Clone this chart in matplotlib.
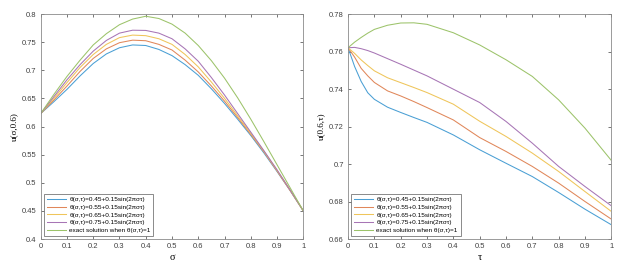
import numpy as np
import matplotlib
matplotlib.use('Agg')
import matplotlib.pyplot as plt
from matplotlib.ticker import FuncFormatter

# left panel: u(sigma, 0.6)
sigma = [0, 0.05, 0.1, 0.15, 0.2, 0.25, 0.3, 0.35, 0.4, 0.45, 0.5,
         0.55, 0.6, 0.65, 0.7, 0.75, 0.8, 0.85, 0.9, 0.95, 1.0]
u_s_045 = [0.623, 0.644, 0.666, 0.690, 0.712, 0.729, 0.740, 0.745, 0.744, 0.737, 0.726,
           0.710, 0.691, 0.667, 0.641, 0.613, 0.584, 0.553, 0.520, 0.486, 0.450]
u_s_055 = [0.623, 0.647, 0.672, 0.698, 0.721, 0.738, 0.749, 0.7535, 0.7525, 0.746, 0.736,
           0.718, 0.697, 0.672, 0.645, 0.616, 0.586, 0.555, 0.521, 0.486, 0.450]
u_s_065 = [0.623, 0.650, 0.678, 0.705, 0.728, 0.746, 0.758, 0.7625, 0.7615, 0.756, 0.746,
           0.728, 0.706, 0.679, 0.650, 0.619, 0.588, 0.556, 0.522, 0.487, 0.450]
u_s_075 = [0.623, 0.653, 0.683, 0.710, 0.734, 0.753, 0.766, 0.7712, 0.7708, 0.766, 0.756,
           0.738, 0.716, 0.687, 0.656, 0.623, 0.590, 0.557, 0.523, 0.487, 0.450]
u_s_exact = [0.623, 0.657, 0.689, 0.718, 0.745, 0.765, 0.781, 0.791, 0.796, 0.792, 0.782,
             0.766, 0.744, 0.717, 0.686, 0.651, 0.613, 0.573, 0.532, 0.491, 0.450]

# right panel: u(0.6, tau)
tau = [0, 0.025, 0.05, 0.075, 0.1, 0.15, 0.2, 0.25, 0.3, 0.4, 0.5, 0.6, 0.7, 0.8, 0.9, 1.0]
u_t_045 = [0.762, 0.752, 0.744, 0.738, 0.7345, 0.7303, 0.7275, 0.7248, 0.7222, 0.7155, 0.7076,
           0.7004, 0.6933, 0.6848, 0.6759, 0.6676]
u_t_055 = [0.762, 0.757, 0.751, 0.747, 0.7435, 0.739, 0.7363, 0.7333, 0.7301, 0.7235, 0.7141,
           0.7067, 0.6987, 0.6898, 0.680, 0.6706]
u_t_065 = [0.762, 0.759, 0.7555, 0.7525, 0.7497, 0.746, 0.7434, 0.7408, 0.7381, 0.7319, 0.7228,
           0.7147, 0.7058, 0.696, 0.6853, 0.6747]
u_t_075 = [0.762, 0.7622, 0.7615, 0.7605, 0.7592, 0.7562, 0.7532, 0.7501, 0.747, 0.7399, 0.7328,
           0.7227, 0.7111, 0.6987, 0.688, 0.6777]
u_t_exact = [0.762, 0.765, 0.7675, 0.7698, 0.7718, 0.774, 0.7752, 0.7753, 0.7745, 0.770, 0.7635,
             0.7556, 0.7467, 0.7342, 0.7191, 0.7019]

labels = ['\u03b8(\u03c3,\u03c4)=0.45+0.15sin(2\u03c0\u03c3\u03c4)',
          '\u03b8(\u03c3,\u03c4)=0.55+0.15sin(2\u03c0\u03c3\u03c4)',
          '\u03b8(\u03c3,\u03c4)=0.65+0.15sin(2\u03c0\u03c3\u03c4)',
          '\u03b8(\u03c3,\u03c4)=0.75+0.15sin(2\u03c0\u03c3\u03c4)',
          'exact solution when \u03b8(\u03c3,\u03c4)=1']
colors = ['#4a9fd4', '#e0875a', '#efc55a', '#a775b5', '#9cc36a']

plt.rcParams['font.family'] = ['Liberation Sans', 'DejaVu Sans']

fig = plt.figure(figsize=(6.38, 2.73), dpi=100)
left_ax = fig.add_axes([0.0638, 0.1245, 0.4116, 0.8242])
right_ax = fig.add_axes([0.5455, 0.1245, 0.4127, 0.8242])

g = lambda v, pos: '%g' % v

for ax, x, series, xlab, ylab, ylim, ystep in [
        (left_ax, sigma, [u_s_045, u_s_055, u_s_065, u_s_075, u_s_exact],
         '\u03c3', 'u(\u03c3,0.6)', (0.4, 0.8), 0.05),
        (right_ax, tau, [u_t_045, u_t_055, u_t_065, u_t_075, u_t_exact],
         '\u03c4', 'u(0.6,\u03c4)', (0.66, 0.78), 0.02)]:
    for ys, c, lab in zip(series, colors, labels):
        ax.plot(x, ys, color=c, linewidth=0.75, label=lab)
    ax.set_xlim(0, 1)
    ax.set_ylim(*ylim)
    ax.set_xticks(np.arange(0, 1.01, 0.1))
    ax.set_yticks(np.arange(ylim[0], ylim[1] + 1e-9, ystep))
    ax.xaxis.set_major_formatter(FuncFormatter(g))
    ax.yaxis.set_major_formatter(FuncFormatter(g))
    ax.tick_params(direction='in', length=2.5, width=0.5, labelsize=5.5,
                   colors='#404040', top=True, right=True, pad=3)
    for sp in ax.spines.values():
        sp.set_color('#8a8a8a')
        sp.set_linewidth(0.6)
    ax.set_xlabel(xlab, fontsize=7.5, family=['Liberation Serif', 'DejaVu Serif'], labelpad=2)
    ax.set_ylabel(ylab, fontsize=6.5, family=['Liberation Serif', 'DejaVu Serif'], labelpad=3)
    leg = ax.legend(loc='lower left', fontsize=4.6, handlelength=3.0, handletextpad=0.5,
                    borderpad=0.45, labelspacing=0.35, fancybox=False,
                    borderaxespad=0.5)
    leg.get_frame().set_edgecolor('#555555')
    leg.get_frame().set_linewidth(0.6)

fig.savefig('out.png', dpi=100)
